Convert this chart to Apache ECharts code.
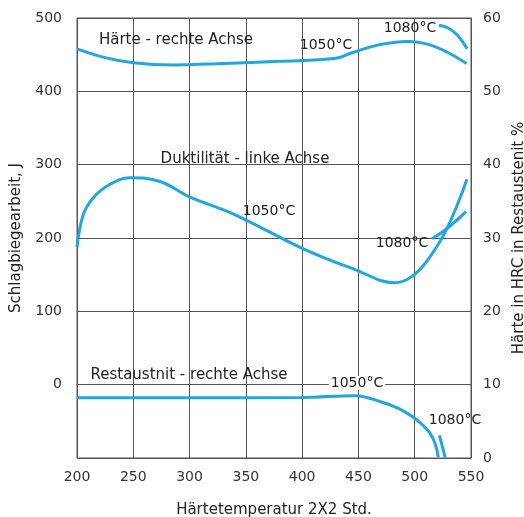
<!DOCTYPE html>
<html>
<head>
<meta charset="utf-8">
<script src="https://cdn.jsdelivr.net/npm/echarts@6/dist/echarts.min.js"></script>
<style>
html,body{margin:0;padding:0;background:#fff;}
#chart{width:524px;height:517px;}
</style>
</head>
<body>
<div id="chart"></div>
<script>
// X axis ticks (Härtetemperatur)
const xTicks = [200, 250, 300, 350, 400, 450, 500, 550];
const leftTicks = [0, 100, 200, 300, 400, 500];
const rightTicks = [0, 10, 20, 30, 40, 50, 60];

// Härte 1050°C (right axis, HRC)
const haerte1050X = [200, 225, 250, 285, 330, 380, 430, 445, 470, 495, 512, 528, 546];
const haerte1050Y = [55.8, 54.6, 53.9, 53.6, 53.8, 54.1, 54.5, 55.3, 56.4, 56.8, 56.4, 55.4, 53.8];
// Härte 1080°C (right axis)
const haerte1080X = [521.6, 530, 537.6, 546.5];
const haerte1080Y = [59.0, 58.6, 57.7, 55.8];

// Duktilität 1050°C (left axis, J)
const dukt1050X = [200, 205.6, 214.5, 229, 247, 273.7, 300, 340, 400, 447, 482, 497, 512, 528.7, 546.4];
const dukt1050Y = [187, 232, 255, 273, 282, 277, 256, 232, 186, 157, 139, 147, 171, 213, 280];
// Duktilität 1080°C (left axis)
const dukt1080X = [515.4, 528.7, 545.6];
const dukt1080Y = [199, 213, 236];

// Restaustenit 1050°C (right axis, %)
const rest1050X = [200, 300, 400, 447, 469, 485, 498.5, 507, 513.6, 518, 521];
const rest1050Y = [8.2, 8.2, 8.25, 8.5, 7.7, 6.8, 5.6, 4.5, 3.4, 2.0, 0.1];
// Restaustenit 1080°C (right axis)
const rest1080X = [521.9, 524.5, 527];
const rest1080Y = [3.1, 1.6, 0.1];

const BLUE = '#22a6e0';
const FONT = '"DejaVu Sans", Verdana, sans-serif';

function zip(xs, ys) { return xs.map((x, i) => [x, ys[i]]); }
function line(name, xs, ys, yAxisIndex) {
  return {
    name: name, type: 'line', yAxisIndex: yAxisIndex,
    data: zip(xs, ys), showSymbol: false, smooth: 0.4,
    lineStyle: { color: BLUE, width: 3 }, itemStyle: { color: BLUE },
    silent: true, z: 3
  };
}
function label(text, x, y, extra) {
  return {
    type: 'text', z: 10,
    style: Object.assign({ text: text, x: x, y: y, fill: '#222', font: '15px ' + FONT, align: 'center', verticalAlign: 'middle' }, extra || {})
  };
}

const chart = echarts.init(document.getElementById('chart'), null, { renderer: 'canvas' });
chart.setOption({
  animation: false,
  backgroundColor: '#fff',
  grid: { left: 77, right: 53, top: 18, bottom: 59, containLabel: false, outerBoundsMode: 'none',
          show: true, borderColor: '#555', borderWidth: 1 },
  xAxis: {
    type: 'value', min: xTicks[0], max: xTicks[xTicks.length - 1], interval: 50,
    name: 'Härtetemperatur 2X2 Std.', nameLocation: 'middle', nameGap: 45,
    nameTextStyle: { fontFamily: FONT, fontSize: 15, color: '#222' },
    axisLine: { lineStyle: { color: '#555' } }, axisTick: { show: false },
    axisLabel: { fontFamily: FONT, fontSize: 14, color: '#333', margin: 12 },
    splitLine: { lineStyle: { color: '#555', width: 1 } }
  },
  yAxis: [
    {
      type: 'value', position: 'left', min: -100, max: 500, interval: 100,
      name: 'Schlagbiegearbeit, J', nameLocation: 'middle', nameGap: 53, nameRotate: 90,
      nameTextStyle: { fontFamily: FONT, fontSize: 15, color: '#222' },
      axisLine: { show: true, lineStyle: { color: '#555' } }, axisTick: { show: false },
      axisLabel: { fontFamily: FONT, fontSize: 14, color: '#333', margin: 15,
        formatter: v => (leftTicks.indexOf(v) >= 0 ? String(v) : '') },
      splitLine: { lineStyle: { color: '#555', width: 1 } }
    },
    {
      type: 'value', position: 'right', min: rightTicks[0], max: rightTicks[rightTicks.length - 1], interval: 10,
      name: 'Härte in HRC in Restaustenit %', nameLocation: 'middle', nameGap: 38, nameRotate: 90,
      nameTextStyle: { fontFamily: FONT, fontSize: 15, color: '#222' },
      axisLine: { show: true, lineStyle: { color: '#555' } }, axisTick: { show: false },
      axisLabel: { fontFamily: FONT, fontSize: 14, color: '#333', margin: 12 },
      splitLine: { show: false }
    }
  ],
  series: [
    line('Härte 1050', haerte1050X, haerte1050Y, 1),
    line('Härte 1080', haerte1080X, haerte1080Y, 1),
    line('Duktilität 1050', dukt1050X, dukt1050Y, 0),
    line('Duktilität 1080', dukt1080X, dukt1080Y, 0),
    line('Restaustenit 1050', rest1050X, rest1050Y, 1),
    line('Restaustenit 1080', rest1080X, rest1080Y, 1)
  ],
  graphic: [
    label('Härte - rechte Achse', 176, 40),
    label('1050°C', 326, 45, { font: '14px ' + FONT }),
    label('1080°C', 410, 28, { font: '14px ' + FONT }),
    label('Duktilität - linke Achse', 245, 159),
    label('1050°C', 269, 211, { font: '14px ' + FONT }),
    label('1080°C', 402, 243, { font: '14px ' + FONT }),
    label('Restaustnit - rechte Achse', 189, 375),
    label('1050°C', 357, 383, { font: '14px ' + FONT, backgroundColor: '#fff', padding: [0, 2] }),
    label('1080°C', 455, 420, { font: '14px ' + FONT })
  ]
});
</script>
</body>
</html>
